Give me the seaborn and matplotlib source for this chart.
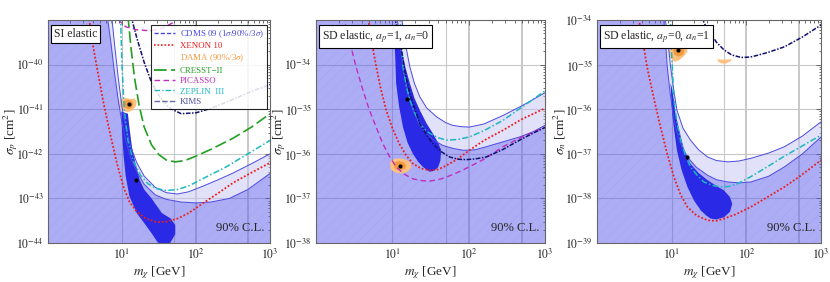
import numpy as np
import pandas as pd
import seaborn as sns
import matplotlib
matplotlib.use("Agg")
from matplotlib import pyplot as plt
from matplotlib.lines import Line2D
from matplotlib.ticker import FixedLocator, LogLocator, NullFormatter

# all values: log10(m / GeV) and log10(sigma / cm^2)

# ---------------- SI elastic ----------------
si_xenon_logm = [0.55, 0.6, 0.66, 0.75, 0.84, 0.93, 1.02, 1.1, 1.2, 1.32, 1.47, 1.6, 1.75, 1.9, 2.1, 2.3, 2.5, 2.75, 3.0]
si_xenon_logs = [-38.9, -39.5, -40.05, -40.85, -41.55, -42.2, -42.74, -43.07, -43.3, -43.45, -43.53, -43.52, -43.45, -43.33, -43.1, -42.88, -42.65, -42.42, -42.2]
si_cresst_logm = [1.08, 1.12, 1.17, 1.23, 1.3, 1.4, 1.5, 1.6, 1.72, 1.85, 2.0, 2.2, 2.5, 2.75, 3.0]
si_cresst_logs = [-38.9, -39.6, -40.3, -40.9, -41.4, -41.8, -42.02, -42.14, -42.18, -42.15, -42.05, -41.9, -41.65, -41.4, -41.1]
si_picasso_logm = [0.9, 0.95, 1.05, 1.2, 1.38, 1.55, 1.7, 1.85]
si_picasso_logs = [-38.8, -39.0, -39.15, -39.22, -39.24, -39.18, -39.05, -38.85]
si_zeplin_logm = [0.98, 1.0, 1.03, 1.08, 1.15, 1.25, 1.35, 1.47, 1.6, 1.75, 1.9, 2.1, 2.4, 2.7, 3.0]
si_zeplin_logs = [-38.9, -40.0, -41.0, -41.7, -42.15, -42.48, -42.67, -42.78, -42.82, -42.8, -42.72, -42.55, -42.3, -42.0, -41.7]
si_kims_logm = [1.12, 1.2, 1.3, 1.4, 1.52, 1.65, 1.8, 2.0, 2.2, 2.5, 2.75, 3.0]
si_kims_logs = [-38.9, -39.4, -39.95, -40.4, -40.75, -40.98, -41.1, -41.08, -40.98, -40.78, -40.6, -40.45]
si_cdms3_logm = [0.86, 0.9, 0.95, 1.0, 1.05, 1.12, 1.2, 1.3, 1.45, 1.6, 1.75, 1.9, 2.1, 2.3, 2.5, 2.75, 3.0]
si_cdms3_logs = [-38.9, -39.55, -40.3, -40.95, -41.4, -41.85, -42.2, -42.5, -42.75, -42.87, -42.9, -42.85, -42.72, -42.58, -42.43, -42.22, -42.0]
si_cdms90_logm = [0.8, 0.85, 0.9, 0.95, 1.0, 1.05, 1.12, 1.2, 1.3, 1.45, 1.6, 1.8, 2.0, 2.2, 2.45, 2.7, 3.0]
si_cdms90_logs = [-38.9, -39.5, -40.2, -40.8, -41.3, -41.7, -42.1, -42.4, -42.68, -42.92, -43.02, -43.08, -43.1, -43.08, -43.0, -42.8, -42.44]
si_cdms1_logm = [0.99, 1.0, 1.02, 1.05, 1.1, 1.2, 1.3, 1.4, 1.48, 1.55, 1.65, 1.72, 1.72, 1.66, 1.54, 1.4, 1.3, 1.24, 1.18, 1.135, 1.1, 1.08]
si_cdms1_logs = [-41.05, -41.5, -42.0, -42.5, -42.95, -43.33, -43.55, -43.78, -43.98, -44.05, -44.0, -43.8, -43.6, -43.45, -43.33, -43.0, -42.8, -42.59, -42.2, -41.85, -41.4, -41.1]
si_dama3_logm = [0.97, 1.0, 1.06, 1.12, 1.17, 1.2, 1.19, 1.14, 1.07, 1.0, 0.96]
si_dama3_logs = [-40.8, -40.76, -40.75, -40.77, -40.76, -40.82, -40.93, -41.03, -41.07, -41.02, -40.9]
si_dama90_logm = [1.03, 1.07, 1.12, 1.15, 1.14, 1.09, 1.04, 1.02]
si_dama90_logs = [-40.82, -40.79, -40.8, -40.87, -40.96, -41.0, -40.97, -40.9]
si_best_logm = [1.095, 1.19]
si_best_logs = [-40.88, -42.58]

# ---------------- SD elastic, ap=1, an=0 ----------------
sdp_xenon_logm = [0.68, 0.72, 0.79, 0.85, 0.92, 1.0, 1.09, 1.18, 1.27, 1.38, 1.49, 1.6, 1.71, 1.85, 2.01, 2.2, 2.45, 2.7, 3.0]
sdp_xenon_logs = [-32.9, -33.4, -34.05, -34.55, -35.02, -35.42, -35.77, -36.03, -36.22, -36.33, -36.37, -36.35, -36.26, -36.12, -35.92, -35.7, -35.47, -35.22, -34.98]
sdp_picasso_logm = [0.36, 0.4, 0.525, 0.62, 0.7, 0.8, 0.875, 0.96, 1.05, 1.15, 1.27, 1.38, 1.49, 1.6, 1.71, 1.85, 2.01, 2.2, 2.45, 2.7, 3.0]
sdp_picasso_logs = [-32.9, -33.2, -34.05, -34.6, -35.02, -35.45, -35.77, -36.05, -36.29, -36.45, -36.56, -36.6, -36.61, -36.58, -36.52, -36.42, -36.29, -36.12, -35.84, -35.62, -35.4]
sdp_zeplin_logm = [1.1, 1.12, 1.14, 1.18, 1.23, 1.3, 1.36, 1.42, 1.49, 1.6, 1.71, 1.85, 2.01, 2.2, 2.45, 2.7, 3.0]
sdp_zeplin_logs = [-32.9, -33.4, -34.05, -34.45, -34.8, -35.1, -35.32, -35.45, -35.54, -35.64, -35.69, -35.68, -35.62, -35.48, -35.25, -34.95, -34.59]
sdp_kims_logm = [1.02, 1.07, 1.12, 1.17, 1.23, 1.3, 1.36, 1.45, 1.53, 1.64, 1.75, 1.86, 1.97, 2.1, 2.23, 2.45, 2.67, 2.85, 3.0]
sdp_kims_logs = [-32.9, -33.2, -33.67, -34.2, -34.65, -35.02, -35.32, -35.58, -35.77, -35.95, -36.07, -36.12, -36.13, -36.11, -36.07, -35.9, -35.69, -35.53, -35.41]
sdp_cdms3_logm = [1.12, 1.15, 1.19, 1.23, 1.29, 1.36, 1.45, 1.58, 1.7, 1.79, 1.9, 2.01, 2.2, 2.45, 2.7, 3.0]
sdp_cdms3_logs = [-32.9, -33.3, -33.7, -34.05, -34.42, -34.72, -34.97, -35.17, -35.3, -35.36, -35.39, -35.4, -35.33, -35.14, -34.92, -34.63]
sdp_cdms90_logm = [1.06, 1.1, 1.14, 1.2, 1.27, 1.35, 1.44, 1.55, 1.66, 1.8, 1.93, 2.08, 2.23, 2.45, 2.67, 2.85, 3.0]
sdp_cdms90_logs = [-32.9, -33.5, -34.05, -34.6, -35.02, -35.33, -35.54, -35.7, -35.81, -35.88, -35.92, -35.91, -35.84, -35.73, -35.62, -35.5, -35.36]
sdp_cdms1_logm = [1.03, 1.04, 1.05, 1.09, 1.14, 1.2, 1.27, 1.34, 1.4, 1.45, 1.49, 1.55, 1.6, 1.63, 1.64, 1.6, 1.53, 1.45, 1.36, 1.29, 1.23, 1.17, 1.12, 1.07]
sdp_cdms1_logs = [-33.52, -33.9, -34.42, -34.95, -35.4, -35.75, -36.0, -36.18, -36.29, -36.36, -36.4, -36.38, -36.3, -36.15, -35.92, -35.75, -35.54, -35.32, -35.02, -34.75, -34.42, -34.05, -33.67, -33.45]
sdp_dama3_logm = [0.98, 1.03, 1.1, 1.18, 1.24, 1.25, 1.2, 1.12, 1.04, 0.98, 0.97]
sdp_dama3_logs = [-36.16, -36.11, -36.1, -36.13, -36.2, -36.3, -36.4, -36.44, -36.42, -36.35, -36.25]
sdp_dama90_logm = [1.03, 1.08, 1.14, 1.18, 1.17, 1.1, 1.04, 1.02]
sdp_dama90_logs = [-36.19, -36.16, -36.18, -36.25, -36.33, -36.37, -36.34, -36.27]
sdp_best_logm = [1.1, 1.19]
sdp_best_logs = [-36.27, -34.77]

# ---------------- SD elastic, ap=0, an=1 ----------------
sdn_xenon_logm = [0.55, 0.6, 0.67, 0.76, 0.85, 0.94, 1.03, 1.12, 1.21, 1.33, 1.48, 1.6, 1.7, 1.85, 2.06, 2.3, 2.51, 2.75, 3.0]
sdn_xenon_logs = [-33.9, -34.35, -35.05, -35.75, -36.4, -37.0, -37.52, -37.92, -38.19, -38.38, -38.49, -38.5, -38.45, -38.36, -38.19, -37.95, -37.74, -37.46, -37.14]
sdn_zeplin_logm = [0.98, 1.0, 1.03, 1.07, 1.12, 1.18, 1.25, 1.34, 1.43, 1.55, 1.66, 1.77, 1.88, 2.05, 2.28, 2.5, 2.75, 3.0]
sdn_zeplin_logs = [-33.9, -34.8, -35.8, -36.3, -36.69, -37.02, -37.29, -37.48, -37.63, -37.71, -37.74, -37.73, -37.67, -37.52, -37.29, -37.06, -36.82, -36.58]
sdn_kims_logm = [1.39, 1.45, 1.52, 1.6, 1.7, 1.8, 1.93, 2.05, 2.15, 2.3, 2.51, 2.75, 3.0]
sdn_kims_logs = [-33.9, -34.12, -34.3, -34.5, -34.67, -34.78, -34.84, -34.83, -34.79, -34.72, -34.6, -34.38, -34.11]
sdn_cdms3_logm = [0.91, 0.95, 0.985, 1.03, 1.07, 1.15, 1.25, 1.36, 1.48, 1.6, 1.75, 1.9, 2.06, 2.3, 2.51, 2.75, 3.0]
sdn_cdms3_logs = [-33.9, -34.5, -35.05, -35.6, -36.02, -36.42, -36.69, -36.91, -37.07, -37.15, -37.18, -37.16, -37.1, -36.98, -36.84, -36.6, -36.28]
sdn_cdms90_logm = [0.89, 0.92, 0.94, 0.98, 1.03, 1.1, 1.21, 1.33, 1.48, 1.6, 1.75, 1.9, 2.06, 2.3, 2.51, 2.75, 3.0]
sdn_cdms90_logs = [-33.9, -34.55, -35.05, -35.65, -36.25, -36.7, -37.07, -37.3, -37.48, -37.58, -37.63, -37.65, -37.63, -37.5, -37.29, -37.0, -36.62]
sdn_cdms1_logm = [0.985, 0.995, 1.01, 1.04, 1.07, 1.13, 1.21, 1.3, 1.39, 1.46, 1.52, 1.6, 1.7, 1.78, 1.81, 1.78, 1.7, 1.6, 1.48, 1.36, 1.25, 1.17, 1.1, 1.05, 1.03, 1.0]
sdn_cdms1_logs = [-35.42, -35.8, -36.17, -36.55, -36.92, -37.35, -37.74, -38.05, -38.27, -38.38, -38.45, -38.47, -38.42, -38.3, -38.12, -37.97, -37.82, -37.72, -37.59, -37.43, -37.22, -36.95, -36.47, -36.1, -35.8, -35.5]
sdn_dama3_logm = [0.97, 1.02, 1.09, 1.16, 1.2, 1.21, 1.17, 1.1, 1.04, 0.98, 0.96]
sdn_dama3_logs = [-34.62, -34.58, -34.56, -34.57, -34.62, -34.7, -34.8, -34.9, -34.94, -34.85, -34.72]
sdn_dama90_logm = [1.03, 1.08, 1.14, 1.17, 1.15, 1.09, 1.04, 1.02]
sdn_dama90_logs = [-34.62, -34.6, -34.62, -34.69, -34.78, -34.82, -34.78, -34.7]
sdn_damahi_logm = [1.61, 1.7, 1.81, 1.78, 1.72, 1.66, 1.62]
sdn_damahi_logs = [-34.88, -34.89, -34.88, -34.93, -34.98, -34.97, -34.93]
sdn_best_logm = [1.088, 1.2]
sdn_best_logs = [-34.67, -37.07]

panel_titles = ["SI elastic", r"SD elastic, $a_p$=1, $a_n$=0", r"SD elastic, $a_p$=0, $a_n$=1"]
panel_ylabels = [r"$\sigma_p$ [cm$^2$]", r"$\sigma_p$ [cm$^2$]", r"$\sigma_n$ [cm$^2$]"]
panel_ylims = [(-44, -39), (-38, -33), (-39, -34)]
legend_labels = [r"CDMS 09 (1$\sigma$/90%/3$\sigma$)", "XENON 10", r"DAMA (90%/3$\sigma$)",
                 "CRESST\u2212II", "PICASSO", "ZEPLIN  III", "KIMS"]

# colours
c_light = "#c4c4f4"
c_mid = "#5c5cec"
c_dark = "#2a2ae6"
c_cdms = "#4a4ae0"
c_xenon = "#ee1c1c"
c_dama3 = "#fdc080"
c_dama90 = "#f39a3e"
c_cresst = "#22a022"
c_picasso = "#c02cc0"
c_zeplin = "#1cb8c0"
c_kims = "#10106e"

sns.set_theme(style="white")
plt.rcParams['font.family'] = ['Liberation Serif', 'DejaVu Serif']
plt.rcParams['mathtext.fontset'] = 'stix'
plt.rcParams['hatch.linewidth'] = 0.3


def curve(ax, logm, logs, color, ls, lw=1.1):
    df = pd.DataFrame({'m': 10.0 ** np.asarray(logm), 's': 10.0 ** np.asarray(logs)})
    sns.lineplot(data=df, x='m', y='s', sort=False, estimator=None, ax=ax,
                 color=color, linestyle=ls, linewidth=lw, zorder=4)


def blob(ax, logm, logs, color, z):
    ax.fill(10.0 ** np.asarray(logm), 10.0 ** np.asarray(logs), color=color, lw=0, zorder=z)


def cdms_regions(ax, m3, s3, m90, s90, m1, s1):
    # 90% region: everything below the inner curve (and left of it)
    xm = np.r_[0.1, 10.0 ** np.asarray(m90), 1e4, 1e4, 0.1]
    ym = np.r_[10.0 ** s90[0], 10.0 ** np.asarray(s90), 10.0 ** s90[-1], 1e-60, 1e-60]
    ax.fill(xm, ym, facecolor=c_mid, alpha=0.5, lw=0, zorder=1)
    ax.fill(xm, ym, facecolor='none', edgecolor=(0.45, 0.45, 0.9, 0.18),
            hatch='///', lw=0, zorder=1.05)
    # 3 sigma band between the two curves
    xb = np.r_[10.0 ** np.asarray(m3), 10.0 ** np.asarray(m90)[::-1]]
    yb = np.r_[10.0 ** np.asarray(s3), 10.0 ** np.asarray(s90)[::-1]]
    ax.fill(xb, yb, facecolor=c_light, alpha=0.5, lw=0, zorder=1)
    blob(ax, m1, s1, c_dark, 2)
    curve(ax, m3, s3, c_cdms, '-', 0.7)
    curve(ax, m90, s90, c_cdms, '-', 0.7)


def best(ax, logm, logs):
    sns.scatterplot(x=10.0 ** np.asarray(logm), y=10.0 ** np.asarray(logs), ax=ax,
                    color='black', s=9, linewidth=0, zorder=6)


fig = plt.figure(figsize=(8.3, 2.82), dpi=100)
rects = [[0.0578, 0.138, 0.2675, 0.791], [0.3807, 0.138, 0.2759, 0.791], [0.7193, 0.138, 0.27, 0.791]]
ylabel_x = [-0.125, -0.122, -0.129]
axes = [fig.add_axes(r) for r in rects]

dash_xenon = (0, (1, 1.1))
dash_cresst = (0, (7, 2.5))
dash_picasso = (0, (4, 2.5))
dash_zeplin = (0, (4, 1.5, 1, 1.5))
dash_kims = (0, (3, 1, 1, 1))

for i, ax in enumerate(axes):
    ax.set_xscale('log')
    ax.set_yscale('log')
    lo, hi = panel_ylims[i]
    ax.set_xlim(1, 1000)
    ax.set_ylim(10.0 ** lo, 10.0 ** hi)
    for gm in [10, 50, 100, 500]:
        ax.axvline(gm, color='#c8c8c8', lw=0.8 if gm in (10, 50) else 1.4, zorder=0.5)
    for e in range(lo + 1, hi):
        ax.axhline(10.0 ** e, color='#c8c8c8', lw=0.8, zorder=0.5)

# panel 1
ax = axes[0]
cdms_regions(ax, si_cdms3_logm, si_cdms3_logs, si_cdms90_logm, si_cdms90_logs, si_cdms1_logm, si_cdms1_logs)
blob(ax, si_dama3_logm, si_dama3_logs, c_dama3, 3)
blob(ax, si_dama90_logm, si_dama90_logs, c_dama90, 3.1)
curve(ax, si_xenon_logm, si_xenon_logs, c_xenon, dash_xenon, 1.3)
curve(ax, si_cresst_logm, si_cresst_logs, c_cresst, dash_cresst, 1.2)
curve(ax, si_picasso_logm, si_picasso_logs, c_picasso, dash_picasso, 1.0)
curve(ax, si_zeplin_logm, si_zeplin_logs, c_zeplin, dash_zeplin, 1.1)
curve(ax, si_kims_logm, si_kims_logs, c_kims, dash_kims, 1.1)
best(ax, si_best_logm, si_best_logs)

# panel 2
ax = axes[1]
cdms_regions(ax, sdp_cdms3_logm, sdp_cdms3_logs, sdp_cdms90_logm, sdp_cdms90_logs, sdp_cdms1_logm, sdp_cdms1_logs)
blob(ax, sdp_dama3_logm, sdp_dama3_logs, c_dama3, 3)
blob(ax, sdp_dama90_logm, sdp_dama90_logs, c_dama90, 3.1)
curve(ax, sdp_xenon_logm, sdp_xenon_logs, c_xenon, dash_xenon, 1.3)
curve(ax, sdp_picasso_logm, sdp_picasso_logs, c_picasso, dash_picasso, 1.0)
curve(ax, sdp_zeplin_logm, sdp_zeplin_logs, c_zeplin, dash_zeplin, 1.1)
curve(ax, sdp_kims_logm, sdp_kims_logs, c_kims, dash_kims, 1.1)
best(ax, sdp_best_logm, sdp_best_logs)

# panel 3
ax = axes[2]
cdms_regions(ax, sdn_cdms3_logm, sdn_cdms3_logs, sdn_cdms90_logm, sdn_cdms90_logs, sdn_cdms1_logm, sdn_cdms1_logs)
blob(ax, sdn_dama3_logm, sdn_dama3_logs, c_dama3, 3)
blob(ax, sdn_dama90_logm, sdn_dama90_logs, c_dama90, 3.1)
blob(ax, sdn_damahi_logm, sdn_damahi_logs, c_dama3, 3)
curve(ax, sdn_xenon_logm, sdn_xenon_logs, c_xenon, dash_xenon, 1.3)
curve(ax, sdn_zeplin_logm, sdn_zeplin_logs, c_zeplin, dash_zeplin, 1.1)
curve(ax, sdn_kims_logm, sdn_kims_logs, c_kims, dash_kims, 1.1)
best(ax, sdn_best_logm, sdn_best_logs)

for i, ax in enumerate(axes):
    lo, hi = panel_ylims[i]
    ax.xaxis.set_major_locator(FixedLocator([10, 100, 1000]))
    ax.set_xticklabels([r'$10^{1}$', r'$10^{2}$', r'$10^{3}$'])
    ax.xaxis.set_minor_locator(LogLocator(base=10, subs=np.arange(2, 10), numticks=20))
    ax.xaxis.set_minor_formatter(NullFormatter())
    exps = list(range(lo, hi + (1 if i == 2 else 0)))
    ax.yaxis.set_major_locator(FixedLocator([10.0 ** e for e in exps]))
    ax.set_yticklabels([r'$10^{%d}$' % e for e in exps])
    ax.yaxis.set_minor_locator(LogLocator(base=10, subs=np.arange(2, 10), numticks=20))
    ax.yaxis.set_minor_formatter(NullFormatter())
    ax.tick_params(which='both', direction='in', top=True, right=True, labelsize=8.5,
                   color='#555555', width=0.6, pad=3)
    ax.tick_params(which='major', length=3.5)
    ax.tick_params(which='minor', length=1.8)
    for sp in ax.spines.values():
        sp.set_color('#666666')
        sp.set_linewidth(0.8)
        sp.set_zorder(8)
    ax.set_xlabel(r'$m_\chi$ [GeV]', fontsize=9.5, labelpad=2)
    ax.set_ylabel(panel_ylabels[i], fontsize=9.5)
    ax.yaxis.set_label_coords(ylabel_x[i], 0.5)
    ax.text(0.025, 0.965, panel_titles[i], transform=ax.transAxes, fontsize=8.5,
            va='top', ha='left', zorder=9,
            bbox=dict(boxstyle='square,pad=0.25', facecolor='white', edgecolor='black', lw=0.8))
    ax.text(0.975, 0.04, '90% C.L.', transform=ax.transAxes, fontsize=9,
            va='bottom', ha='right', zorder=9)

# legend in the first panel
handles = [
    Line2D([], [], color=c_cdms, ls=(0, (3, 1.5)), lw=1.0),
    Line2D([], [], color=c_xenon, ls=dash_xenon, lw=1.2),
    Line2D([], [], color='none'),
    Line2D([], [], color=c_cresst, ls=dash_cresst, lw=1.3),
    Line2D([], [], color=c_picasso, ls=dash_picasso, lw=1.0),
    Line2D([], [], color=c_zeplin, ls=dash_zeplin, lw=1.0),
    Line2D([], [], color='#6a6aa8', ls=(0, (4, 1.5)), lw=1.0),
]
leg = axes[0].legend(handles, legend_labels, loc='upper right', bbox_to_anchor=(0.995, 0.985),
                     fontsize=6.4, frameon=True, fancybox=False, framealpha=0.85,
                     edgecolor='black', handlelength=2.3, handletextpad=0.6,
                     labelspacing=0.25, borderpad=0.35, borderaxespad=0.2)
leg.get_frame().set_linewidth(0.8)
leg.set_zorder(9)
text_cols = [c_cdms, c_xenon, c_dama90, c_cresst, c_picasso, c_zeplin, '#505098']
for t, c in zip(leg.get_texts(), text_cols):
    t.set_color(c)

fig.savefig('out.png', dpi=100)
